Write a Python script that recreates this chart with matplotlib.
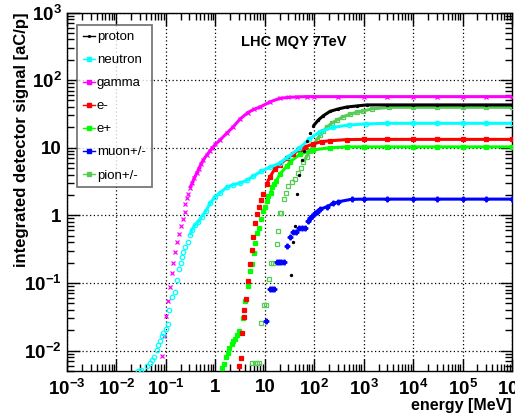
import matplotlib
matplotlib.use("Agg")
import matplotlib.pyplot as plt
from matplotlib.lines import Line2D
from matplotlib.ticker import LogLocator, FixedLocator, NullFormatter

# ---------------- data (energy in MeV, signal in aC/p) ----------------
gamma_E = [0.0845, 0.093, 0.100, 0.109, 0.121, 0.131, 0.141, 0.155, 0.170, 0.184,
           0.200, 0.222, 0.240, 0.247, 0.263, 0.284, 0.307, 0.342, 0.375, 0.419,
           0.46, 0.51, 0.57, 0.67, 0.78, 0.87, 1.0, 1.24, 1.69, 2.3, 3.15, 4.5,
           6.0, 8.0, 13.0, 20.0, 30.0, 45.0, 70.0, 100.0, 300.0, 1e3, 3e3, 1e4,
           3e4, 1e5, 3e5, 1e6]
gamma_S = [0.0084, 0.0162, 0.032, 0.054, 0.088, 0.139, 0.199, 0.286, 0.40, 0.53,
           0.69, 0.88, 1.12, 1.47, 1.78, 2.1, 2.56, 3.03, 3.6, 4.18,
           4.84, 5.7, 6.6, 7.8, 9.0, 10.0, 11.2, 13.0, 16.3, 20.4, 26.5, 33.0,
           37.0, 40.0, 48.0, 53.7, 55.6, 56.5, 57.0, 57.0, 57.0, 57.0, 57.0, 57.0,
           57.0, 57.0, 57.0, 57.0]

neutron_E = [0.0277, 0.032, 0.041, 0.048, 0.052, 0.058, 0.065, 0.070, 0.076, 0.082,
             0.089, 0.100, 0.109, 0.116, 0.131, 0.153, 0.170, 0.184, 0.200, 0.208,
             0.225, 0.243, 0.284, 0.307, 0.332, 0.387, 0.452, 0.53, 0.647, 0.78,
             0.98, 1.24, 1.69, 2.3, 3.15, 4.3, 5.85, 8.5, 13.0, 20.0, 30.0, 50.0,
             80.0, 130.0, 240.0, 500.0, 1100.0, 3e3, 1e4, 3e4, 1e5, 3e5, 1e6]
neutron_S = [0.0050, 0.0052, 0.0059, 0.0066, 0.0072, 0.0081, 0.0102, 0.012, 0.0138, 0.0166,
             0.0183, 0.021, 0.025, 0.040, 0.0625, 0.0726, 0.110, 0.159, 0.195, 0.244,
             0.29, 0.343, 0.407, 0.51, 0.605, 0.72, 0.805, 0.955, 1.17, 1.5,
             1.88, 2.15, 2.6, 2.85, 3.0, 3.3, 3.8, 4.5, 5.2, 5.9, 7.4, 9.8,
             13.5, 17.3, 20.0, 21.7, 22.5, 23.0, 23.0, 23.0, 23.0, 23.0, 23.0]

eminus_E = [3.0, 3.26, 3.5, 3.8, 3.85, 4.17, 4.64, 5.0, 5.5, 5.86,
            6.43, 7.06, 7.75, 8.5, 9.3, 10.9, 12.7, 16.1, 20.3, 27.7,
            37.8, 51.5, 65.0, 96.0, 141.0, 208.0, 453.0, 1e3, 3e3, 1e4,
            3e4, 1e5, 3e5, 1e6]
eminus_S = [0.006, 0.0078, 0.0183, 0.0316, 0.0397, 0.059, 0.107, 0.188, 0.307, 0.472,
            0.76, 1.05, 1.35, 1.7, 2.1, 2.9, 3.7, 4.9, 5.6, 7.0,
            8.1, 9.6, 10.3, 11.4, 12.3, 12.7, 13.2, 13.3, 13.3, 13.3,
            13.3, 13.3, 13.3, 13.3]

eplus_E = [1.34, 1.5, 1.62, 1.78, 1.91, 2.14, 2.3, 2.5, 2.7, 2.97,
           3.57, 3.92, 4.57, 5.0, 5.5, 5.96, 6.43, 7.06, 7.75, 8.5,
           9.3, 10.1, 10.9, 11.8, 13.2, 14.2, 15.6, 16.9, 20.3, 27.7,
           32.4, 51.5, 96.0, 208.0, 453.0, 1e3, 3e3, 1e4, 3e4, 1e5,
           3e5, 1e6]
eplus_S = [0.00546, 0.00625, 0.0081, 0.0093, 0.0108, 0.0124, 0.0138, 0.0151, 0.0169, 0.0196,
           0.0305, 0.054, 0.09, 0.15, 0.188, 0.274, 0.385, 0.553, 0.643, 0.873,
           1.16, 1.34, 1.64, 1.93, 2.16, 2.65, 2.9, 3.2, 4.1, 5.3,
           6.2, 8.0, 9.3, 10.0, 10.3, 10.3, 10.3, 10.3, 10.3, 10.3,
           10.3, 10.3]

muon_E = [10.6, 12.5, 14.0, 15.5, 17.5, 19.5, 21.5, 24.0, 27.7, 32.4,
          37.8, 42.0, 50.0, 57.0, 64.0, 73.6, 82.0, 91.0, 104.0, 112.0,
          131.0, 178.0, 243.0, 306.0, 571.0, 1e3, 3e3, 1e4, 3e4, 1e5,
          3e5, 1e6]
muon_S = [0.0273, 0.081, 0.081, 0.081, 0.206, 0.206, 0.206, 0.206, 0.355, 0.472,
          0.571, 0.571, 0.66, 0.66, 0.66, 0.83, 0.90, 0.98, 1.07, 1.13,
          1.23, 1.34, 1.5, 1.59, 1.73, 1.74, 1.74, 1.74, 1.74, 1.74,
          1.74, 1.74]

pion_E = [5.5, 6.3, 7.0, 7.8, 8.5, 9.6, 10.5, 12.0, 13.4, 14.9,
          17.3, 18.2, 20.3, 21.5, 24.1, 26.4, 29.9, 35.0, 40.8, 47.6,
          53.0, 60.0, 70.0, 82.0, 96.0, 112.0, 131.0, 152.0, 178.0, 225.0,
          284.0, 387.0, 528.0, 721.0, 982.0, 1450.0, 3300.0, 1e4, 3e4, 1e5,
          3e5, 1e6]
pion_S = [0.0065, 0.0065, 0.0065, 0.0065, 0.026, 0.047, 0.047, 0.113, 0.2, 0.2,
          0.38, 0.59, 1.09, 1.09, 1.76, 2.11, 2.7, 3.08, 3.5, 4.18,
          4.95, 6.2, 7.36, 9.0, 11.0, 13.0, 15.4, 17.5, 20.0, 23.0,
          25.5, 28.8, 31.2, 33.4, 35.0, 37.5, 39.6, 39.6, 39.6, 39.6,
          39.6, 39.6]

proton_E = [33.9, 37.8, 40.8, 45.4, 49.5, 55.7, 62.0, 70.0, 82.0, 96.0,
            121.0, 152.0, 208.0, 306.0, 453.0, 721.0, 1150.0, 3e3, 1e4, 3e4,
            1e5, 3e5, 1e6]
proton_S = [0.131, 0.407, 0.695, 2.1, 4.0, 6.5, 9.0, 12.4, 16.5, 21.0,
            25.7, 29.7, 34.5, 37.5, 40.0, 41.5, 43.0, 43.0, 43.0, 43.0,
            43.0, 43.0, 43.0]

x_ticks = [1e-3, 1e-2, 1e-1, 1, 10, 1e2, 1e3, 1e4, 1e5, 1e6]
x_labels = [r"$\mathbf{10^{-3}}$", r"$\mathbf{10^{-2}}$", r"$\mathbf{10^{-1}}$", "1", "10",
            r"$\mathbf{10^{2}}$", r"$\mathbf{10^{3}}$", r"$\mathbf{10^{4}}$",
            r"$\mathbf{10^{5}}$", r"$\mathbf{10^{6}}$"]
y_ticks = [1e-2, 1e-1, 1, 10, 1e2, 1e3]
y_labels = [r"$\mathbf{10^{-2}}$", r"$\mathbf{10^{-1}}$", "1", "10",
            r"$\mathbf{10^{2}}$", r"$\mathbf{10^{3}}$"]

# ---------------- style ----------------
plt.rcParams['font.family'] = ['Liberation Sans', 'DejaVu Sans']
plt.rcParams['mathtext.fontset'] = 'custom'
plt.rcParams['mathtext.rm'] = 'Liberation Sans:bold'
plt.rcParams['mathtext.bf'] = 'Liberation Sans:bold'
plt.rcParams['mathtext.it'] = 'Liberation Sans:bold'

series = [
    # label, E, S, color, marker, ms, mfc, line_from
    ("proton",   proton_E,  proton_S,  "black",   ".", 3.0, "black",   90.0),
    ("neutron",  neutron_E, neutron_S, "#00ffff", "o", 3.2, "none",    0.3),
    ("gamma",    gamma_E,   gamma_S,   "#ff00ff", "x", 2.6, "#ff00ff", 0.3),
    ("e-",       eminus_E,  eminus_S,  "#ff0000", "s", 2.6, "#ff0000", 10.0),
    ("e+",       eplus_E,   eplus_S,   "#00ff00", "s", 2.6, "#00ff00", 13.0),
    ("muon+/-",  muon_E,    muon_S,    "#0000ff", "P", 3.4, "#0000ff", 100.0),
    ("pion+/-",  pion_E,    pion_S,    "#55cc55", "s", 3.4, "none",    60.0),
]

fig = plt.figure(figsize=(5.15, 4.20), dpi=100)
ax = fig.add_axes([67/515, 49/420, 445/515, 358.5/420])

draw_order = ["pion+/-", "muon+/-", "e+", "e-", "gamma", "neutron", "proton"]
handles = {}
for label, E, S, color, marker, ms, mfc, line_from in series:
    z = 3 + draw_order.index(label)
    ax.plot(E, S, ls="none", marker=marker, ms=ms, color=color, mfc=mfc,
            mec=color, mew=0.9, zorder=z)
    Ed = [e for e in E if e >= line_from]
    Sd = [s for e, s in zip(E, S) if e >= line_from]
    ax.plot(Ed, Sd, ls="-", lw=2.2, color=color, zorder=z, solid_capstyle="butt")
    handles[label] = Line2D([0], [0], color=color, lw=1.0, marker="s" if marker != "." else ".",
                            ms=2.5, mfc=color, mec=color)

ax.set_xscale("log")
ax.set_yscale("log")
ax.set_xlim(1e-3, 1e6)
ax.set_ylim(0.005, 1e3)

ax.xaxis.set_major_locator(FixedLocator(x_ticks))
ax.set_xticklabels(x_labels)
ax.yaxis.set_major_locator(FixedLocator(y_ticks))
ax.set_yticklabels(y_labels)
ax.xaxis.set_minor_locator(LogLocator(base=10, subs=range(2, 10), numticks=50))
ax.yaxis.set_minor_locator(LogLocator(base=10, subs=range(2, 10), numticks=50))
ax.xaxis.set_minor_formatter(NullFormatter())
ax.yaxis.set_minor_formatter(NullFormatter())

ax.tick_params(which="both", direction="in", top=True, right=True, width=1.0)
ax.tick_params(which="major", length=9, labelsize=13.5)
ax.tick_params(axis="x", which="major", pad=6)
ax.tick_params(axis="y", which="major", pad=4)
ax.tick_params(which="minor", length=5)
for t in ax.get_xticklabels() + ax.get_yticklabels():
    t.set_fontweight("bold")

ax.grid(True, which="major", ls=(0, (1, 2)), color="black", lw=0.9)
for sp in ax.spines.values():
    sp.set_linewidth(1.0)

ax.set_xlabel("energy [MeV]", fontsize=11.5, fontweight="bold", ha="right", va="top")
ax.xaxis.set_label_coords(1.0, -(398 - 371) / 358.5)
ax.set_ylabel("integrated detector signal [aC/p]", fontsize=12, fontweight="bold",
              ha="right", va="bottom")
ax.yaxis.set_label_coords((29 - 67) / 445, 1.0)

fig.text(294/515, 1 - 42/420, "LHC MQY 7TeV", fontsize=10.5, fontweight="bold",
         ha="center", va="center")

leg = ax.legend([handles[s[0]] for s in series], [s[0] for s in series],
                loc="upper left", bbox_to_anchor=(10/445, 1 - 12.5/358.5),
                frameon=True, fancybox=False, edgecolor="#555555", fontsize=9.5,
                handlelength=0.9, handletextpad=0.15, labelspacing=0.82,
                borderpad=0.45, borderaxespad=0.0, handleheight=0.7)
leg.get_frame().set_linewidth(1.3)
leg.set_zorder(20)

fig.savefig("out.png", dpi=100)
